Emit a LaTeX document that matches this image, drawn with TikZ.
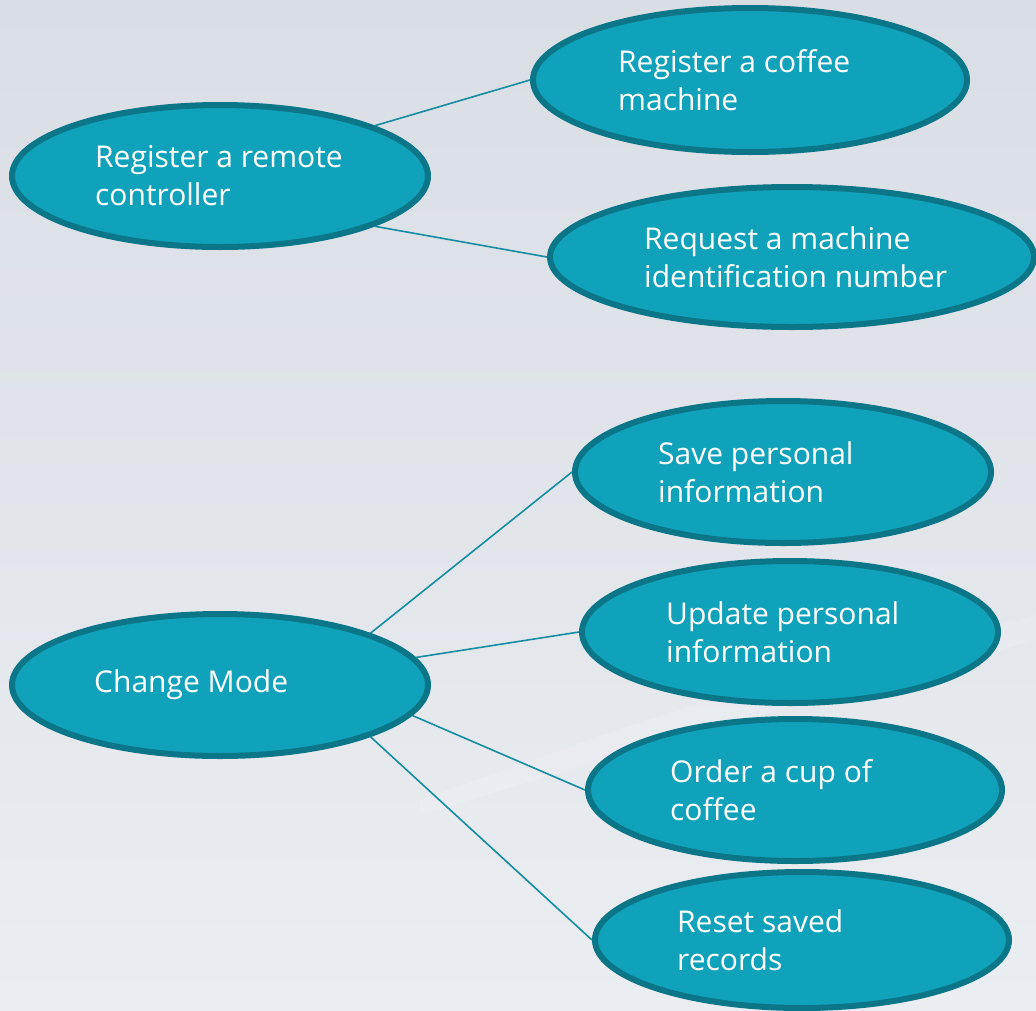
\documentclass[tikz,border=0pt]{standalone}
\usepackage{fontspec}
\setmainfont{Open Sans}
\usetikzlibrary{shapes.geometric,positioning}

\definecolor{bgtop}{RGB}{217,222,229}
\definecolor{bgbot}{RGB}{234,237,241}
\definecolor{bubblefill}{RGB}{17,162,187}
\definecolor{bubbleedge}{RGB}{10,118,136}
\definecolor{linkteal}{RGB}{20,140,162}

\tikzset{
  bubble/.style={ellipse, draw=bubbleedge, fill=bubblefill, line width=6pt,
    minimum width=416pt, minimum height=142pt, inner sep=0pt},
  caption/.style={text=white, align=left, inner sep=0pt,
    font=\fontsize{30}{38}\selectfont},
  link/.style={draw=linkteal, line width=1.6pt}
}

\begin{document}
\begin{tikzpicture}[x=1pt,y=-1pt]
  % background
  \shade[top color=bgtop, bottom color=bgbot] (0,0) rectangle (1036,1010);
  \fill[white, opacity=0.12] (420,800) .. controls (700,700) .. (1036,615) -- (1036,640) .. controls (700,730) .. (420,815) -- cycle;
  \useasboundingbox (0,0) rectangle (1036,1010);

  % registration
  \node[bubble] (remote) at (220,176) {};
  \node[caption, right=86pt of remote.west] (remote-t) {Register a remote\\controller};
  \node[bubble, minimum width=434pt, minimum height=144pt] (machine) at (750,80) {};
  \node[caption, right=88pt of machine.west] (machine-t) {Register a coffee\\machine};
  \node[bubble, minimum width=484pt, minimum height=140pt] (idnum) at (792,257) {};
  \node[caption, right=97pt of idnum.west] (idnum-t) {Request a machine\\identification number};

  % modes
  \node[bubble] (mode) at (220,685) {};
  \node[caption, right=85pt of mode.west] (mode-t) {Change Mode};
  \node[bubble] (save) at (783,472) {};
  \node[caption, right=86pt of save.west] (save-t) {Save personal\\information};
  \node[bubble] (update) at (790,632) {};
  \node[caption, right=87pt of update.west] (update-t) {Update personal\\information};
  \node[bubble, minimum width=414pt] (order) at (795,790) {};
  \node[caption, right=85pt of order.west] (order-t) {Order a cup of\\coffee};
  \node[bubble, minimum width=414pt, minimum height=136pt] (reset) at (802,940) {};
  \node[caption, right=85pt of reset.west] (reset-t) {Reset saved\\records};

  % connectors
  \draw[link] (remote.18) -- (machine.west);
  \draw[link] (remote.-18) -- (idnum.west);
  \draw[link] (mode.19.5) -- (save.west);
  \draw[link] (mode.8) -- (update.west);
  \draw[link] (mode.-9) -- (order.west);
  \draw[link] (mode.-19.5) -- (reset.west);
\end{tikzpicture}
\end{document}
